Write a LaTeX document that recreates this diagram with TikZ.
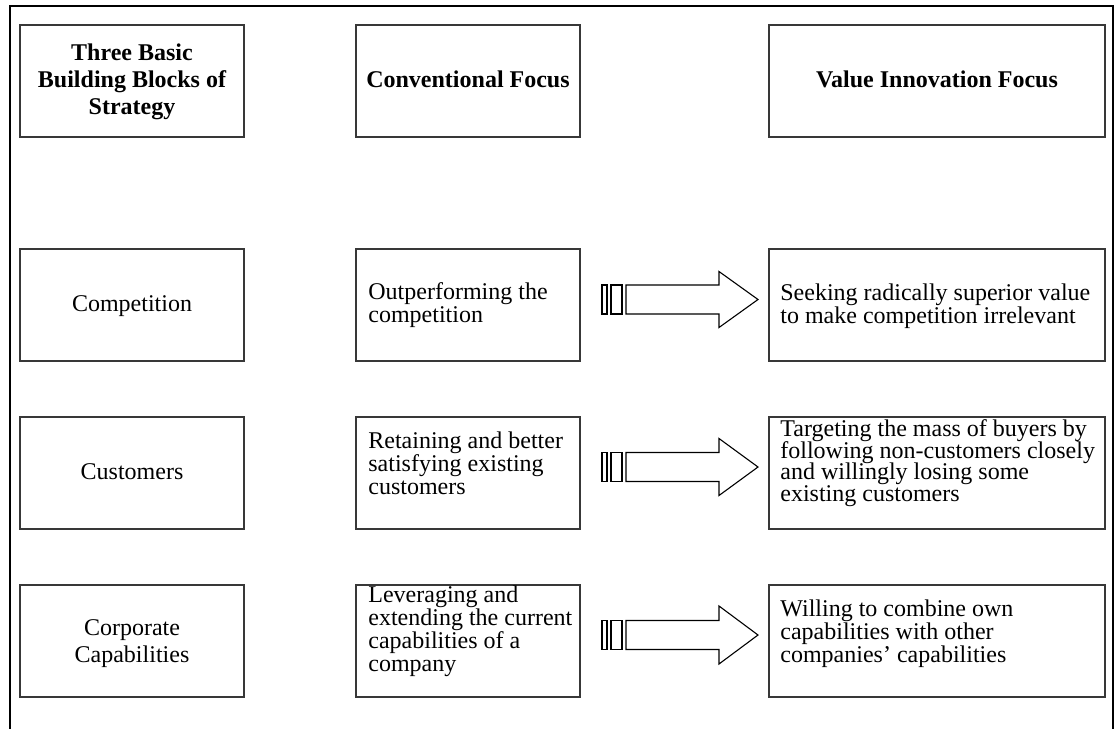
\documentclass[tikz,border=0pt]{standalone}
\usepackage{fontspec}
\setmainfont{Liberation Serif}
\newcommand\tightlines{\lineskiplimit=-20pt\relax\lineskip=0pt\relax}
\newcommand\blkarrow[3]{% #1 centre y, #2 half head, #3 half shaft
  \draw[line width=0.55pt] (602,#1-#3) rectangle (607,#1+#3);
  \draw[line width=0.55pt] (611,#1-#3) rectangle (622,#1+#3);
  \draw[line width=0.55pt] (626,#1-#3) -- (719,#1-#3) -- (719,#1-#2) -- (758,#1)
    -- (719,#1+#2) -- (719,#1+#3) -- (626,#1+#3) -- cycle;}
\begin{document}
\begin{tikzpicture}[x=0.5pt,y=-0.5pt,
  box/.style={draw=black!78, line width=0.7pt, inner sep=0pt, minimum height=56pt},
  narrow/.style={box, minimum width=112pt},
  wide/.style={box, minimum width=168pt},
  hdr/.style={inner sep=0pt, align=center, font=\fontsize{12}{13.5}\selectfont\bfseries},
  ctr/.style={inner sep=0pt, align=center, font=\fontsize{12}{13.5}\selectfont},
  txt/.style={inner sep=0pt, align=left, font=\fontsize{12}{11.5}\selectfont\tightlines},
  txtt/.style={inner sep=0pt, align=left, font=\fontsize{12}{10.85}\selectfont\tightlines}]
\useasboundingbox (0,0) rectangle (1115,729);
\draw[line width=1.2pt] (10,729) -- (10,6) -- (1113,6) -- (1113,729);
% boxes
\node[narrow] (h1) at (132,81) {};
\node[narrow] (h2) at (468,81) {};
\node[wide]   (h3) at (937,81) {};
\node[narrow] (a1) at (132,305) {};
\node[narrow] (b1) at (468,305) {};
\node[wide]   (c1) at (937,305) {};
\node[narrow] (a2) at (132,473) {};
\node[narrow] (b2) at (468,473) {};
\node[wide]   (c2) at (937,473) {};
\node[narrow] (a3) at (132,641) {};
\node[narrow] (b3) at (468,641) {};
\node[wide]   (c3) at (937,641) {};
% header texts
\node[hdr, anchor=north] (th1) at (132,43.6) {Three Basic\\Building Blocks of\\Strategy};
\node[hdr, anchor=base] (th2) at (468,87) {Conventional Focus};
\node[hdr, anchor=base] (th3) at (937,87) {Value Innovation Focus};
% first column
\node[ctr, anchor=base] (ta1) at (132,311) {Competition};
\node[ctr, anchor=base] (ta2) at (132,479) {Customers};
\node[ctr, anchor=north] (ta3) at (132,619.6) {Corporate\\Capabilities};
% second column
\node[txt, anchor=north west] (tb1) at (368,282.6) {Outperforming the\\competition};
\node[txt, anchor=north west] (tb2) at (368,431.6) {Retaining and better\\satisfying existing\\customers};
\node[txt, anchor=north west] (tb3) at (368,585.6) {Leveraging and\\extending the current\\capabilities of a\\company};
% third column
\node[txt, anchor=north west] (tc1) at (780,283.6) {Seeking radically superior value\\to make competition irrelevant};
\node[txtt, anchor=north west] (tc2) at (780,419) {Targeting the mass of buyers by\\following non-customers closely\\and willingly losing some\\existing customers};
\node[txt, anchor=north west] (tc3) at (780,599.6) {Willing to combine own\\capabilities with other\\companies’ capabilities};
% block arrows
\blkarrow{299.5}{28}{14.5}
\blkarrow{467}{28.5}{14.5}
\blkarrow{635}{29}{14.5}
\end{tikzpicture}
\end{document}
